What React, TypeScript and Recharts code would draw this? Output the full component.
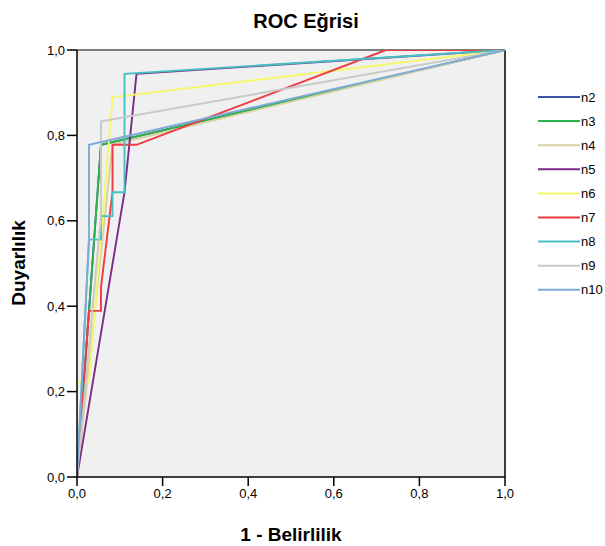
import React from "react";
import { LineChart, Line, XAxis, YAxis, CartesianGrid, ReferenceLine } from "recharts";

const seriesNames = ["n2", "n3", "n4", "n5", "n6", "n7", "n8", "n9", "n10"];
const seriesColors = ["#3E51A3", "#2DB34A", "#D6D3A0", "#7A2A88", "#F7F76C", "#EE3B40", "#45C0C4", "#C9C9C9", "#7EAAD6"];

const n2X = [0, 0.056, 1];
const n2Y = [0, 0.778, 1];
const n3X = [0, 0.056, 1];
const n3Y = [0, 0.778, 1];
const n4X = [0, 0.083, 1];
const n4Y = [0, 0.778, 1];
const n5X = [0, 0.111, 0.139, 1];
const n5Y = [0, 0.667, 0.944, 1];
const n6X = [0, 0, 0.028, 0.083, 1];
const n6Y = [0, 0.222, 0.222, 0.889, 1];
const n7X = [0, 0.028, 0.056, 0.056, 0.083, 0.083, 0.139, 0.722, 1];
const n7Y = [0, 0.389, 0.389, 0.444, 0.667, 0.778, 0.778, 1, 1];
const n8X = [0, 0.028, 0.056, 0.056, 0.083, 0.083, 0.111, 0.111, 1];
const n8Y = [0, 0.556, 0.556, 0.611, 0.611, 0.667, 0.667, 0.944, 1];
const n9X = [0, 0.056, 0.056, 1];
const n9Y = [0, 0.611, 0.833, 1];
const n10X = [0, 0.028, 0.028, 1];
const n10Y = [0, 0.556, 0.778, 1];

const tickValues = [0, 0.2, 0.4, 0.6, 0.8, 1.0];
const tickLabels = ["0,0", "0,2", "0,4", "0,6", "0,8", "1,0"];

const titleText = "ROC Eğrisi";
const xLabelText = "1 - Belirlilik";
const yLabelText = "Duyarlılık";

const allX = [n2X, n3X, n4X, n5X, n6X, n7X, n8X, n9X, n10X];
const allY = [n2Y, n3Y, n4Y, n5Y, n6Y, n7Y, n8Y, n9Y, n10Y];

const series = seriesNames.map((name, i) => ({
  name,
  color: seriesColors[i],
  data: allX[i].map((x, j) => ({ x, y: allY[i][j] })),
}));

const fmt = (v: number) => {
  const idx = tickValues.findIndex((t) => Math.abs(t - v) < 1e-9);
  return idx >= 0 ? tickLabels[idx] : String(v);
};

const font = "'Liberation Sans', Arial, sans-serif";

export default function App() {
  return (
    <div style={{ position: "absolute", left: 0, top: 0, width: 605, height: 546, background: "#fff", fontFamily: font }}>
      <LineChart
        width={605}
        height={546}
        margin={{ top: 50, right: 100, bottom: 0, left: 0 }}
        style={{ fontFamily: font }}
      >
        <CartesianGrid fill="#F0F0F0" horizontal={false} vertical={false} />
        <XAxis
          dataKey="x"
          type="number"
          domain={[0, 1]}
          ticks={tickValues}
          tickFormatter={fmt}
          height={69}
          tickSize={9}
          tickMargin={3}
          axisLine={{ stroke: "#000", strokeWidth: 1.5 }}
          tickLine={{ stroke: "#000", strokeWidth: 1.5 }}
          tick={{ fill: "#000", fontSize: 13 }}
          allowDataOverflow
        />
        <YAxis
          dataKey="y"
          type="number"
          domain={[0, 1]}
          ticks={tickValues}
          tickFormatter={fmt}
          width={77}
          tickSize={10}
          tickMargin={2}
          axisLine={{ stroke: "#000", strokeWidth: 1.5 }}
          tickLine={{ stroke: "#000", strokeWidth: 1.5 }}
          tick={{ fill: "#000", fontSize: 13 }}
          allowDataOverflow
        />
        <ReferenceLine y={1} stroke="#555" strokeWidth={1.5} />
        <ReferenceLine x={1} stroke="#000" strokeWidth={1.5} />
        {series.map((s) => (
          <Line
            key={s.name}
            data={s.data}
            dataKey="y"
            name={s.name}
            type="linear"
            stroke={s.color}
            strokeWidth={1.9}
            dot={false}
            activeDot={false}
            isAnimationActive={false}
          />
        ))}
      </LineChart>
      <svg
        width={605}
        height={546}
        style={{ position: "absolute", left: 0, top: 0, pointerEvents: "none", fontFamily: font }}
      >
        <text x={306} y={21} textAnchor="middle" dominantBaseline="central" fontWeight="bold" fontSize={20} fill="#000">
          {titleText}
        </text>
        <text x={291} y={534} textAnchor="middle" dominantBaseline="central" fontWeight="bold" fontSize={19} fill="#000">
          {xLabelText}
        </text>
        <text
          x={18}
          y={263}
          textAnchor="middle"
          dominantBaseline="central"
          fontWeight="bold"
          fontSize={19}
          fill="#000"
          transform="rotate(-90 18 263)"
        >
          {yLabelText}
        </text>
        {series.map((s, i) => (
          <g key={s.name}>
            <line x1={538} x2={580} y1={97 + i * 24.1} y2={97 + i * 24.1} stroke={s.color} strokeWidth={2} />
            <text x={581} y={97 + i * 24.1} dominantBaseline="central" fontSize={13} fill="#000">
              {s.name}
            </text>
          </g>
        ))}
      </svg>
    </div>
  );
}
